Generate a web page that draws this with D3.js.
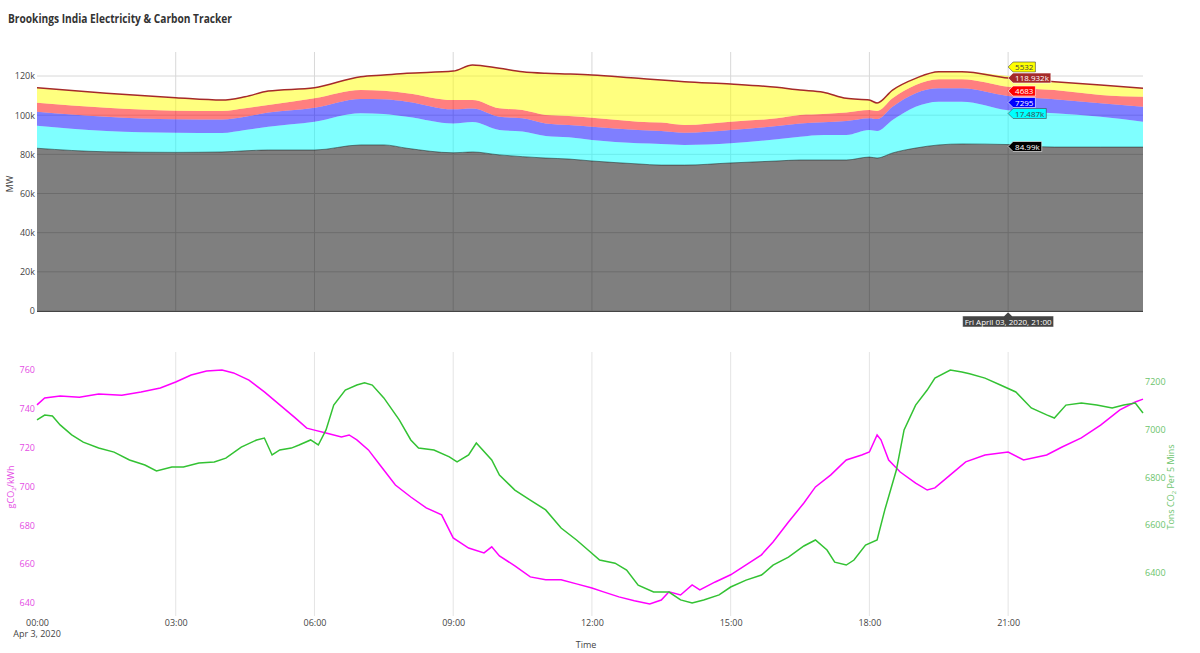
<!DOCTYPE html>
<html>
<head>
<meta charset="utf-8">
<script src="https://cdn.jsdelivr.net/npm/d3@7"></script>
<style>
  html, body { margin: 0; padding: 0; background: #fff; }
  svg { display: block; font-family: "Open Sans", "Noto Sans", sans-serif; }
</style>
</head>
<body>
<svg id="chart" width="1200" height="653"></svg>
<script>
// ---------------- DATA ----------------
const title = "Brookings India Electricity & Carbon Tracker";
const dateLabel = "Apr 3, 2020";
const hoverDateText = "Fri April 03, 2020, 21:00";
const hoverTime = "21:00";

// Top chart: stacked generation (MW), sampled times
const topTimes = ["00:00","01:30","03:00","04:00","04:30","05:00","06:00","07:00","07:30","08:00",
  "09:00","09:25","10:00","10:30","11:00","11:30","12:00","13:00","13:30","14:00",
  "15:00","16:00","16:30","17:00","17:30","18:00","18:10","18:30","19:00","19:30",
  "20:00","21:00","22:00","23:00","23:55"];
const graySeries = [83100,81300,81000,81200,81800,82200,82200,84800,84800,83100,
  80800,81200,79700,78800,78100,77600,76600,75100,74500,74500,
  75600,76600,77100,77100,77100,78600,78100,80700,83200,84800,
  85300,84990,83700,83700,83700];
const cyanSeries = [11500,10600,10000,9700,10600,11900,14500,16200,15800,16100,
  15000,15300,12700,12800,11300,11100,10700,10500,10800,10300,
  10000,11100,11900,12800,12800,13800,13800,16800,21100,22100,
  21600,17487,17300,15500,13000];
const blueSeries = [7200,7300,6900,6900,6800,7200,7100,7300,7500,7700,
  7200,6900,6800,6800,6400,6300,6800,6800,6600,6200,
  6800,6800,6800,6500,7100,6000,6100,6800,6900,6800,
  6800,7295,7100,6900,7600];
const redSeries = [4600,4600,4400,4300,4300,3900,4800,4500,4400,4300,
  4700,4400,4300,4200,4300,4600,4600,4300,4300,4000,
  4300,3900,4300,4200,4300,4200,4100,4300,4200,4600,
  4600,4683,4700,4200,5100];
const yellowSeries = [7600,7400,6600,5600,5900,7100,5400,6800,8000,10200,
  14800,17800,20400,19600,21300,21400,21800,22100,21800,22100,
  19200,15800,12700,11100,7300,5100,4100,4200,3400,3900,
  3900,5532,4300,5100,4300];
const totalSeries = [114000,111200,108900,107700,109400,112300,114000,119600,120500,121400,
  122500,125600,123900,122200,121400,121000,120500,118800,118000,117100,
  115900,114200,112800,111700,108600,107700,106200,112800,118800,122200,
  122200,118932,117100,115400,113700];
const topTicks = [0,20000,40000,60000,80000,100000,120000];

// Bottom chart: emission intensity (gCO2/kWh)
const intensityTimes = ["00:00","00:10","00:30","00:55","01:20","01:50","02:15","02:40","03:00","03:20",
  "03:40","04:00","04:15","04:35","04:55","05:15","05:35","05:50","06:00","06:15",
  "06:35","06:45","06:55","07:10","07:25","07:45","08:05","08:25","08:45","09:00",
  "09:20","09:40","09:50","10:00","10:20","10:40","11:00","11:20","11:40","12:00",
  "12:15","12:35","12:55","13:15","13:30","13:40","13:55","14:10","14:20","14:40",
  "15:00","15:20","15:40","15:55","16:15","16:35","16:50","17:10","17:30","17:50",
  "18:00","18:10","18:15","18:25","18:40","19:00","19:15","19:25","19:45","20:05",
  "20:30","21:00","21:20","21:50","22:10","22:35","23:00","23:25","23:45","23:55"];
const intensityValues = [742,745.6,746.6,746,747.6,747,748.7,750.7,753.8,757.4,
  759.5,760,758.5,754.8,748.7,742,735.3,730,729,727.5,
  725.5,726.5,724,718.8,711,700.7,694.5,688.9,685.3,673.4,
  668.2,665.7,668.8,664.1,659,653.3,651.8,651.8,649.7,647.6,
  645.6,643,641,639.4,641.4,645.6,644,649.2,646.6,650.7,
  654.4,659.5,664.7,671.3,681.6,691.4,699.7,705.9,713.6,716.2,
  717.7,726.5,724,713.6,707.4,701.7,698.1,699.2,705.9,712.6,
  716.2,717.7,713.6,716.2,720.3,725,731.6,739.4,743.5,745];
const intensityTicks = [640,660,680,700,720,740,760];

// Bottom chart: emissions (tons CO2 per 5 mins)
const emissionTimes = ["00:00","00:10","00:20","00:30","00:45","01:00","01:20","01:40","02:00","02:20",
  "02:35","02:55","03:10","03:30","03:50","04:05","04:25","04:45","04:55","05:05",
  "05:15","05:30","05:40","05:55","06:05","06:15","06:25","06:40","06:55","07:05",
  "07:15","07:30","07:50","08:05","08:15","08:35","08:55","09:05","09:20","09:30",
  "09:50","10:00","10:20","10:40","11:00","11:20","11:40","11:55","12:10","12:30",
  "12:45","13:00","13:20","13:40","13:55","14:10","14:25","14:45","15:00","15:20",
  "15:40","15:55","16:15","16:35","16:50","17:05","17:15","17:30","17:40","17:55",
  "18:10","18:20","18:35","18:45","19:00","19:15","19:25","19:45","20:00","20:10",
  "20:30","20:50","21:10","21:30","21:50","22:00","22:15","22:35","22:55","23:15",
  "23:30","23:45","23:55"];
const emissionValues = [7040,7060,7056,7019,6977,6947,6922,6905,6872,6851,
  6826,6843,6843,6859,6864,6880,6926,6956,6964,6893,
  6914,6922,6935,6956,6935,6998,7102,7165,7186,7195,
  7186,7132,7040,6956,6922,6914,6885,6864,6893,6943,
  6872,6809,6746,6704,6663,6587,6537,6495,6453,6440,
  6411,6348,6319,6319,6286,6273,6286,6307,6340,6369,
  6390,6432,6465,6512,6537,6495,6444,6432,6453,6516,
  6537,6663,6830,6998,7102,7165,7215,7249,7241,7233,
  7215,7186,7157,7090,7061,7048,7102,7111,7102,7090,
  7102,7111,7069];
const emissionTicks = [6400,6600,6800,7000,7200];

const xTickTimes = ["00:00","03:00","06:00","09:00","12:00","15:00","18:00","21:00"];

// ---------------- DRAW ----------------
const parseT = s => { const [h, m] = s.split(":").map(Number); return new Date(2020, 3, 3, h, m); };
const svg = d3.select("#chart");

const x = d3.scaleTime().domain([parseT("00:00"), parseT("23:55")]).range([37, 1143]);
const yTop = d3.scaleLinear().domain([0, 120000]).range([311, 76]);
const yL = d3.scaleLinear().domain([640, 760]).range([602.7, 370]);
const yR = d3.scaleLinear().domain([6400, 7200]).range([572.7, 381.7]);

const topY0 = 52, topY1 = 311, botY0 = 352, botY1 = 616;
const gridColor = "#d8d8d8";

// Title
svg.append("text").attr("x", 8).attr("y", 23).attr("font-size", 11.5).attr("font-weight", 700)
  .attr("fill", "#333").attr("textLength", 224).attr("lengthAdjust", "spacingAndGlyphs").text(title);

// ---- TOP CHART ----
const gTop = svg.append("g");
gTop.selectAll("line.hg").data(topTicks).join("line")
  .attr("x1", 37).attr("x2", 1143).attr("y1", d => yTop(d)).attr("y2", d => yTop(d))
  .attr("stroke", gridColor).attr("stroke-width", 1);
gTop.selectAll("line.vg").data(xTickTimes.slice(1)).join("line")
  .attr("x1", d => x(parseT(d))).attr("x2", d => x(parseT(d))).attr("y1", topY0).attr("y2", topY1)
  .attr("stroke", gridColor).attr("stroke-width", 1);

const topRows = topTimes.map((t, i) => ({
  t: parseT(t), gray: graySeries[i], cyan: cyanSeries[i], blue: blueSeries[i],
  red: redSeries[i], yellow: yellowSeries[i], total: totalSeries[i]
}));
const keys = ["gray", "cyan", "blue", "red", "yellow"];
const fillColors = { gray: "#000000", cyan: "#00ffff", blue: "#0000ff", red: "#ff0000", yellow: "#ffff00" };
const stacked = d3.stack().keys(keys)(topRows);
const area = d3.area().curve(d3.curveMonotoneX)
  .x(d => x(d.data.t)).y0(d => yTop(d[0])).y1(d => yTop(d[1]));
gTop.selectAll("path.layer").data(stacked).join("path")
  .attr("d", area).attr("fill", d => fillColors[d.key]).attr("fill-opacity", 0.5).attr("stroke", "none");
gTop.append("path").datum(stacked[0])
  .attr("d", d3.line().curve(d3.curveMonotoneX).x(d => x(d.data.t)).y(d => yTop(d[1])))
  .attr("fill", "none").attr("stroke", "#000").attr("stroke-opacity", 0.45).attr("stroke-width", 1);
gTop.append("path").datum(topRows)
  .attr("d", d3.line().curve(d3.curveMonotoneX).x(d => x(d.t)).y(d => yTop(d.total)))
  .attr("fill", "none").attr("stroke", "#a52a2a").attr("stroke-width", 1.5);
gTop.append("line").attr("x1", 37).attr("x2", 1143).attr("y1", topY1 + 0.5).attr("y2", topY1 + 0.5)
  .attr("stroke", "#444").attr("stroke-width", 1);

const yTopAxis = d3.axisLeft(yTop).tickValues(topTicks).tickSize(0).tickPadding(2)
  .tickFormat(d => d === 0 ? "0" : d3.format("~s")(d));
const gYT = gTop.append("g").attr("transform", "translate(37,0)").call(yTopAxis);
gYT.select(".domain").remove();
gYT.selectAll("text").attr("font-size", 9).attr("fill", "#444").attr("font-family", "Open Sans");
svg.append("text").attr("transform", "translate(13,184) rotate(-90)").attr("text-anchor", "middle")
  .attr("font-size", 9).attr("fill", "#444").text("MW");

// ---- BOTTOM CHART ----
const gBot = svg.append("g");
gBot.selectAll("line.vg").data(xTickTimes.slice(1)).join("line")
  .attr("x1", d => x(parseT(d))).attr("x2", d => x(parseT(d))).attr("y1", botY0).attr("y2", botY1)
  .attr("stroke", "#e4e4e4").attr("stroke-width", 1);

const magenta = "#ff00ff", green = "#33c233";
gBot.append("path").datum(intensityTimes.map((t, i) => [parseT(t), intensityValues[i]]))
  .attr("d", d3.line().x(d => x(d[0])).y(d => yL(d[1])))
  .attr("fill", "none").attr("stroke", magenta).attr("stroke-width", 1.5);
gBot.append("path").datum(emissionTimes.map((t, i) => [parseT(t), emissionValues[i]]))
  .attr("d", d3.line().x(d => x(d[0])).y(d => yR(d[1])))
  .attr("fill", "none").attr("stroke", green).attr("stroke-width", 1.5);

const gYL = gBot.append("g").attr("transform", "translate(37,0)")
  .call(d3.axisLeft(yL).tickValues(intensityTicks).tickSize(0).tickPadding(2).tickFormat(d3.format("d")));
gYL.select(".domain").remove();
gYL.selectAll("text").attr("font-size", 9).attr("fill", "#e44ce4").attr("font-family", "Open Sans");
const gYR = gBot.append("g").attr("transform", "translate(1143,0)")
  .call(d3.axisRight(yR).tickValues(emissionTicks).tickSize(0).tickPadding(2).tickFormat(d3.format("d")));
gYR.select(".domain").remove();
gYR.selectAll("text").attr("font-size", 9).attr("fill", "#6cc46c").attr("font-family", "Open Sans");

const yl = svg.append("text").attr("transform", "translate(14,487) rotate(-90)").attr("text-anchor", "middle")
  .attr("font-size", 9).attr("fill", "#e44ce4");
yl.append("tspan").text("gCO");
yl.append("tspan").attr("font-size", 6).attr("dy", 2).text("2");
yl.append("tspan").attr("dy", -2).text("/kWh");
const yr = svg.append("text").attr("transform", "translate(1174,487) rotate(-90)").attr("text-anchor", "middle")
  .attr("font-size", 9).attr("fill", "#6cc46c");
yr.append("tspan").text("Tons CO");
yr.append("tspan").attr("font-size", 6).attr("dy", 2).text("2");
yr.append("tspan").attr("dy", -2).text(" Per 5 Mins");

const gX = gBot.append("g").attr("transform", `translate(0,${botY1})`)
  .call(d3.axisBottom(x).tickValues(xTickTimes.map(parseT)).tickSize(0).tickPadding(4)
    .tickFormat(d3.timeFormat("%H:%M")));
gX.select(".domain").remove();
gX.selectAll("text").attr("font-size", 9).attr("fill", "#444").attr("font-family", "Open Sans");
svg.append("text").attr("x", x(parseT("00:00"))).attr("y", 637).attr("text-anchor", "middle")
  .attr("font-size", 9).attr("fill", "#444").text(dateLabel);
svg.append("text").attr("x", 586).attr("y", 648).attr("text-anchor", "middle")
  .attr("font-size", 9).attr("fill", "#444").text("Time");

// ---- HOVER LABELS (at 21:00) ----
const hi = topTimes.indexOf(hoverTime);
const hx = x(parseT(hoverTime));
const fmtVal = v => v >= 10000 ? d3.format("~s")(v) : d3.format("d")(v);
const hoverItems = [
  { v: yellowSeries[hi], bg: "#ffff00", fg: "#444", cy: 67 },
  { v: totalSeries[hi], bg: "#a52a2a", fg: "#fff", cy: 78 },
  { v: redSeries[hi], bg: "#ff0000", fg: "#fff", cy: 91 },
  { v: blueSeries[hi], bg: "#0000ff", fg: "#fff", cy: 102.5 },
  { v: cyanSeries[hi], bg: "#00ffff", fg: "#444", cy: 113.5 },
  { v: graySeries[hi], bg: "#000000", fg: "#fff", cy: 146.5 }
];
const gH = svg.append("g");
hoverItems.forEach(it => {
  const g = gH.append("g");
  const txt = g.append("text").attr("x", hx + 7).attr("y", it.cy + 3).attr("font-size", 8)
    .attr("fill", it.fg).text(fmtVal(it.v));
  const w = txt.node().getComputedTextLength() + 4;
  g.insert("path", "text")
    .attr("d", `M${hx},${it.cy} L${hx + 5},${it.cy - 5} H${hx + 5 + w} V${it.cy + 5} H${hx + 5} Z`)
    .attr("fill", it.bg).attr("stroke", it.fg).attr("stroke-width", 0.6);
});
const gXh = svg.append("g");
const xt = gXh.append("text").attr("x", hx).attr("y", 324.5).attr("text-anchor", "middle")
  .attr("font-size", 8).attr("fill", "#fff").text(hoverDateText);
const xw = xt.node().getComputedTextLength() + 4;
gXh.insert("path", "text")
  .attr("d", `M${hx},${topY1 + 1} L${hx + 4},${topY1 + 5} H${hx + xw / 2} V${topY1 + 16} H${hx - xw / 2} V${topY1 + 5} H${hx - 4} Z`)
  .attr("fill", "#444").attr("stroke", "#fff").attr("stroke-width", 0.5);
</script>
</body>
</html>
